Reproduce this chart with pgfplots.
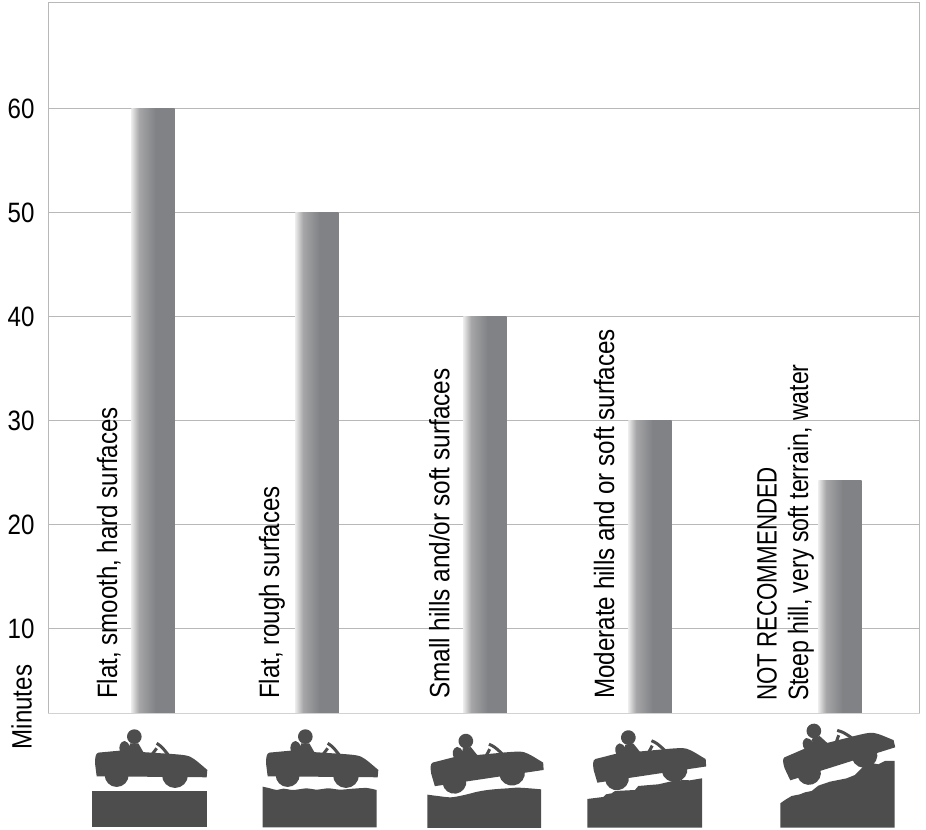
\documentclass[border=0pt]{standalone}
\usepackage{fontspec}
\setmainfont[FakeStretch=0.86]{Liberation Sans}
\usepackage{pgfplots}
\pgfplotsset{compat=1.18}

\definecolor{framegray}{HTML}{B8B8B8}
\definecolor{basegray}{HTML}{D2D2D2}
\definecolor{iconfill}{HTML}{4D4D4D}
\definecolor{barlight}{HTML}{EBEBEB}
\definecolor{barmid}{HTML}{A6A6A8}
\definecolor{bardark}{HTML}{808285}
\pgfdeclarehorizontalshading{barshade}{100bp}{color(0bp)=(barlight); color(25bp)=(barlight); color(34bp)=(barmid); color(53bp)=(bardark); color(100bp)=(bardark)}

% car silhouette, x y rotation (y counted from the top, in reference pixels)
\newcommand{\car}[3]{%
  \begin{scope}[shift={(#1,830-#2)},rotate=#3,x=.25pt,y=.25pt]
    \fill[iconfill] (-165,0) .. controls (-165,18) and (-163,30) .. (-155,32) -- (-90,38) -- (65,28)
      .. controls (90,26) and (108,25) .. (120,20) .. controls (135,13) and (155,-6) .. (172,-20)
      -- (170,-42) -- (-160,-39) -- cycle;
    \fill[iconfill] (-100,-35) circle (36);
    \fill[iconfill] (75,-35) circle (39);
    \fill[iconfill] (-47,80) circle (22);
    \fill[iconfill] (-60,60) -- (-35,60) -- (-15,25) -- (-65,25) -- cycle;
    \fill[iconfill] (-90,35) .. controls (-95,50) and (-90,65) .. (-76,67)
      .. controls (-62,62) and (-56,48) .. (-60,30) -- cycle;
    \draw[iconfill,line width=2.25pt] (20,60) .. controls (35,50) .. (55,25);
    \draw[iconfill,line width=2.25pt] (5,25) -- (20,45);
  \end{scope}}

\begin{document}
\begin{tikzpicture}[x=.75pt,y=.75pt]
\path[use as bounding box] (0,0) rectangle (926,830);
\begin{axis}[
  at={(48.5,112)}, anchor=south west,
  scale only axis, width=653.25pt, height=533.25pt,
  xmin=48.5, xmax=919.5, ymin=1.82, ymax=70.2,
  axis line style={draw=framegray, line width=.8pt},
  ymajorgrids, grid style={draw=framegray, line width=.8pt},
  xtick=\empty, ytick={10,20,30,40,50,60},
  major tick length=0pt,
  tick label style={font=\fontsize{21}{25}\selectfont},
  /pgf/number format/assume math mode=true,
  yticklabel style={anchor=east, xshift=-7pt},
  ylabel=Minutes,
  every axis y label/.style={at={(axis description cs:-0.0195,-0.0506)}, rotate=90, anchor=base west, inner sep=0pt, font=\fontsize{21}{25}\selectfont},
  clip=false,
  no markers,
  bar width=32.6pt,
  every axis plot/.append style={ybar, bar shift=0pt, draw=none, shade, shading=barshade, shading angle=0},
]
% each bar is its own plot so that the gradient runs across one bar
\addplot coordinates {(153,60)};
\addplot coordinates {(317,50)};
\addplot coordinates {(485,40)};
\addplot coordinates {(650,30)};
\addplot coordinates {(840,24.2)};
\path[draw=basegray, line width=1.4pt] (axis cs:48.5,1.82) -- (axis cs:919.5,1.82);
\begin{scope}[every node/.style={font=\fontsize{21}{25}\selectfont, rotate=90, anchor=base west, inner sep=0pt}]
  \node at (axis cs:117,3.2) {Flat, smooth, hard surfaces};
  \node at (axis cs:279,3.2) {Flat, rough surfaces};
  \node at (axis cs:449.3,3.2) {\scalebox{1.012}[1]{Small hills and/or soft surfaces}};
  \node at (axis cs:614,3.2) {\scalebox{1.005}[1]{Moderate hills and or soft surfaces}};
  \node at (axis cs:776.7,3.0) {\scalebox{.928}[1]{NOT RECOMMENDED}};
  \node at (axis cs:808,3.0) {\scalebox{.96}[1]{Steep hill, very soft terrain, water}};
\end{scope}
\end{axis}

\car{150}{763.3}{0}
\car{321}{763.3}{0}
\car{485.5}{765}{9}
\car{648}{761.5}{9}
\car{837}{751.5}{18}

\begin{scope}[shift={(0,210)}, x=.25pt, y=-.25pt]
  \fill[iconfill] (276,512) rectangle (620,622);
  \fill[iconfill] plot[smooth, tension=.5] coordinates {(788,500) (810,505) (830,510) (850,506) (880,510) (920,505) (950,509) (985,505) (1020,509) (1060,506) (1100,504) (1130,510)}
    -- (1130,622) -- (788,622) -- cycle;
\end{scope}
\begin{scope}[shift={(401,210)}, x=.25pt, y=-.25pt]
  \fill[iconfill] plot[smooth, tension=.5] coordinates {(79,524) (110,528) (150,532) (190,525) (230,515) (260,510) (290,507) (320,505) (350,503) (385,505) (420,508)}
    -- (420,624) -- (79,624) -- cycle;
\end{scope}
\begin{scope}[shift={(570,115)}, x=.25pt, y=-.25pt]
  \fill[iconfill] plot coordinates {(52,252) (100,246) (108,238) (125,235) (135,228) (195,225) (205,213) (240,210) (265,208) (300,200) (340,195) (360,196) (396,190)}
    -- (396,338) -- (52,338) -- cycle;
  \fill[iconfill] plot coordinates {(631,265) (645,255) (665,243) (690,238) (705,232) (725,228) (745,212) (780,200) (830,190) (855,180) (880,155) (910,145) (925,148) (945,138) (974,138)}
    -- (974,338) -- (631,338) -- cycle;
\end{scope}
\end{tikzpicture}
\end{document}
